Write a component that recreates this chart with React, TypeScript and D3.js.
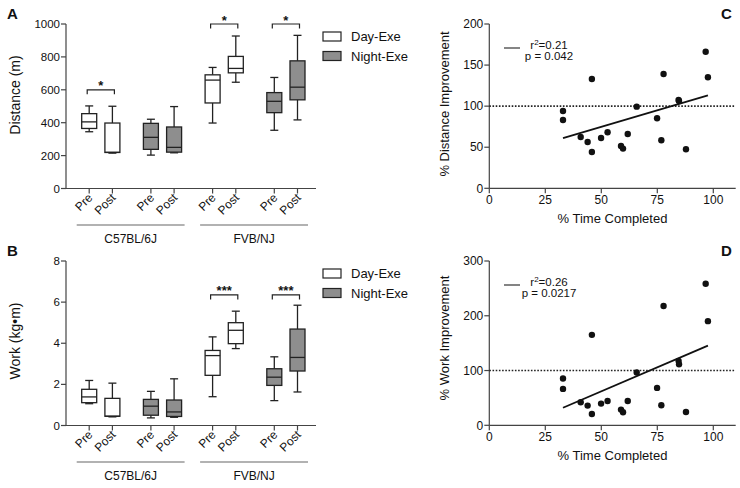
import * as d3 from 'd3';

// box stats: [min, q1, median, q3, max]
// order: C57 Day Pre, C57 Day Post, C57 Night Pre, C57 Night Post, FVB Day Pre, FVB Day Post, FVB Night Pre, FVB Night Post
const strains = ['C57BL/6J', 'FVB/NJ'];
const schedules = ['Day-Exe', 'Night-Exe'];
const phases = ['Pre', 'Post'];

const distanceStats = [
  [345, 365, 405, 455, 502],
  [215, 219, 220, 398, 500],
  [203, 238, 311, 396, 421],
  [217, 221, 250, 374, 498],
  [398, 520, 659, 691, 736],
  [646, 703, 730, 803, 927],
  [354, 461, 530, 583, 675],
  [417, 539, 616, 776, 931],
];

const workStats = [
  [1.06, 1.11, 1.39, 1.76, 2.19],
  [0.42, 0.45, 0.45, 1.32, 2.06],
  [0.37, 0.5, 0.94, 1.27, 1.66],
  [0.4, 0.44, 0.66, 1.24, 2.27],
  [1.4, 2.44, 3.4, 3.65, 4.31],
  [3.74, 3.98, 4.63, 5.0, 5.56],
  [1.21, 1.95, 2.35, 2.76, 3.34],
  [1.63, 2.65, 3.31, 4.69, 5.85],
];

// significance: [group index, bracket value, label]
const distanceSig: [number, number, string][] = [
  [0, 600, '*'],
  [2, 1000, '*'],
  [3, 1000, '*'],
];
const workSig: [number, number, string][] = [
  [2, 6.35, '***'],
  [3, 6.35, '***'],
];

const distanceTicks = [0, 200, 400, 600, 800, 1000];
const workTicks = [0, 2, 4, 6, 8];

// scatter (same animals in C and D)
const timeCompleted = [32.9, 32.9, 45.8, 40.8, 43.9, 45.8, 49.9, 52.8, 58.8, 59.7, 61.8, 65.8, 74.9, 76.8, 77.8, 84.5, 84.7, 87.8, 96.6, 97.6];
const distanceImprovement = [94.1, 83.2, 133, 62.5, 56.4, 44.2, 61.3, 68.2, 51.5, 48.3, 66.1, 99.4, 85.2, 58.4, 139.1, 107.5, 106.3, 47.5, 166.3, 135.1];
const workImprovement = [85.4, 66.5, 165.2, 42.1, 36, 20.7, 39.6, 44.5, 28.7, 23.8, 44.5, 96.3, 68.3, 36.6, 217.7, 117.7, 111.6, 24.4, 258.5, 190.2];
const timeTicks = [0, 25, 50, 75, 100];
const distImpTicks = [0, 50, 100, 150, 200];
const workImpTicks = [0, 100, 200, 300];

const FONT = '"Liberation Sans", Arial, Helvetica, sans-serif';
const GREY = '#8e8e8e';
const INK = '#222';
const AXIS = '#444';

interface BoxPanelProps {
  top: number;
  letter: string;
  yLabel: string;
  stats: number[][];
  ticks: number[];
  sig: [number, number, string][];
  yMax: number;
  labelY: number;
}

function BoxPanel({ top, letter, yLabel, stats, ticks, sig, yMax, labelY }: BoxPanelProps) {
  const x0 = 66;
  const x1 = 316;
  const y0 = top + 164.5;
  const y = d3.scaleLinear().domain([0, yMax]).range([y0, top]);
  const groups = d3.cross(strains, schedules).map(d => d.join('|'));
  const gx = d3.scalePoint<string>().domain(groups).range([100.8, 285.9]);
  const px = d3.scalePoint<string>().domain(phases).range([-11.6, 11.6]);
  const boxW = 15;
  const capW = 8;

  const items = d3.cross(groups, phases).map(([g, p], i) => ({
    g, p, x: (gx(g) as number) + (px(p) as number), s: stats[i],
    night: g.endsWith(schedules[1]),
  }));

  return (
    <g>
      <text x={7} y={top - 5} fontSize={15} fontWeight="bold" fill="#111">{letter}</text>
      <text transform={`translate(20,${labelY}) rotate(-90)`} textAnchor="middle" fontSize={14} fill="#111">{yLabel}</text>
      {/* y axis */}
      <line x1={x0} x2={x0} y1={top} y2={y0} stroke={AXIS} strokeWidth={1.2} />
      {ticks.map(t => (
        <g key={t}>
          <line x1={x0 - 5} x2={x0} y1={y(t)} y2={y(t)} stroke={AXIS} strokeWidth={1.2} />
          <text x={x0 - 6} y={y(t)} dy="0.35em" textAnchor="end" fontSize={11.5} fill="#111">{t}</text>
        </g>
      ))}
      {/* x axis */}
      <line x1={x0} x2={x1} y1={y0} y2={y0} stroke={AXIS} strokeWidth={1.2} />
      {items.map((d, i) => (
        <g key={i}>
          <line x1={d.x} x2={d.x} y1={y0} y2={y0 + 5} stroke={AXIS} strokeWidth={1.2} />
          <text transform={`translate(${d.x + 4},${y0 + 10}) rotate(-45)`} textAnchor="end" fontSize={12} fill="#111">{d.p}</text>
        </g>
      ))}
      {/* boxes */}
      {items.map((d, i) => {
        const [mn, q1, md, q3, mx] = d.s;
        return (
          <g key={'b' + i} stroke={INK} strokeWidth={1.3}>
            <line x1={d.x} x2={d.x} y1={y(mx)} y2={y(q3)} />
            <line x1={d.x} x2={d.x} y1={y(q1)} y2={y(mn)} />
            <line x1={d.x - capW / 2} x2={d.x + capW / 2} y1={y(mx)} y2={y(mx)} />
            <line x1={d.x - capW / 2} x2={d.x + capW / 2} y1={y(mn)} y2={y(mn)} />
            <rect x={d.x - boxW / 2} y={y(q3)} width={boxW} height={y(q1) - y(q3)} fill={d.night ? GREY : '#fff'} />
            <line x1={d.x - boxW / 2} x2={d.x + boxW / 2} y1={y(md)} y2={y(md)} />
          </g>
        );
      })}
      {/* significance brackets */}
      {sig.map(([gi, v, lab], i) => {
        const g = groups[gi];
        const xa = (gx(g) as number) + (px('Pre') as number) - 2;
        const xb = (gx(g) as number) + (px('Post') as number) + 2;
        const yy = y(v);
        return (
          <g key={'s' + i}>
            <path d={`M${xa},${yy + 4.5}V${yy}H${xb}V${yy + 4.5}`} fill="none" stroke={INK} strokeWidth={1.2} />
            <text x={(xa + xb) / 2} y={yy + 0.5} textAnchor="middle" fontSize={13} fontWeight="bold" fill="#111">{lab}</text>
          </g>
        );
      })}
      {/* strain labels */}
      {strains.map(s => {
        const first = items.find(d => d.g.startsWith(s + '|'))!;
        const last = [...items].reverse().find(d => d.g.startsWith(s + '|'))!;
        const la = first.x - 12.5;
        const lb = last.x + 10.5;
        return (
          <g key={s}>
            <line x1={la} x2={lb} y1={y0 + 36.5} y2={y0 + 36.5} stroke="#666" strokeWidth={1.2} />
            <text x={(la + lb) / 2} y={y0 + 54} textAnchor="middle" fontSize={12} fill="#111">{s}</text>
          </g>
        );
      })}
      {/* legend */}
      {schedules.map((s, i) => (
        <g key={s}>
          <rect x={323} y={top + 8 + i * 19.5} width={18} height={9} fill={i ? GREY : '#fff'} stroke={INK} strokeWidth={1.2} />
          <text x={351} y={top + 17 + i * 19.5} fontSize={13} fill="#111">{s}</text>
        </g>
      ))}
    </g>
  );
}

interface ScatterProps {
  top: number;
  letter: string;
  yLabel: string;
  ys: number[];
  ticks: number[];
  yMax: number;
  r2: string;
  p: string;
  labelY: number;
}

function fit(xs: number[], ys: number[]) {
  const mx = d3.mean(xs) as number;
  const my = d3.mean(ys) as number;
  const sxy = d3.sum(xs, (x, i) => (x - mx) * (ys[i] - my));
  const sxx = d3.sum(xs, x => (x - mx) * (x - mx));
  const slope = sxy / sxx;
  return { slope, intercept: my - slope * mx };
}

function ScatterPanel({ top, letter, yLabel, ys, ticks, yMax, r2, p, labelY }: ScatterProps) {
  const y0 = top + 164.3;
  const x = d3.scaleLinear().domain([0, 110]).range([489.3, 735.7]);
  const y = d3.scaleLinear().domain([0, yMax]).range([y0, top]);
  const { slope, intercept } = fit(timeCompleted, ys);
  const [xa, xb] = d3.extent(timeCompleted) as [number, number];
  const line = d3.line<number>().x(d => x(d)).y(d => y(intercept + slope * d));
  const pts = timeCompleted.map((t, i) => [t, ys[i]]);

  return (
    <g>
      <text x={721} y={top - 5} fontSize={15} fontWeight="bold" fill="#111">{letter}</text>
      <text transform={`translate(449,${labelY}) rotate(-90)`} textAnchor="middle" fontSize={13} fill="#111">{yLabel}</text>
      <line x1={x(0)} x2={x(0)} y1={top} y2={y0} stroke={AXIS} strokeWidth={1.2} />
      {ticks.map(t => (
        <g key={t}>
          <line x1={x(0) - 5} x2={x(0)} y1={y(t)} y2={y(t)} stroke={AXIS} strokeWidth={1.2} />
          <text x={x(0) - 6} y={y(t)} dy="0.35em" textAnchor="end" fontSize={12} fill="#111">{t}</text>
        </g>
      ))}
      <line x1={x(0)} x2={x(110)} y1={y0} y2={y0} stroke={AXIS} strokeWidth={1.2} />
      {timeTicks.map(t => (
        <g key={t}>
          <line x1={x(t)} x2={x(t)} y1={y0} y2={y0 + 5} stroke={AXIS} strokeWidth={1.2} />
          <text x={x(t)} y={y0 + 16} textAnchor="middle" fontSize={12} fill="#111">{t}</text>
        </g>
      ))}
      <text x={x(55)} y={y0 + 35} textAnchor="middle" fontSize={13} fill="#111">% Time Completed</text>
      <line x1={x(0)} x2={x(110)} y1={y(100)} y2={y(100)} stroke={INK} strokeWidth={1.6} strokeDasharray="1.6,1.6" />
      {pts.map(([a, b], i) => (
        <circle key={i} cx={x(a)} cy={y(b)} r={3.2} fill="#111" />
      ))}
      <path d={line([xa, xb]) ?? ''} fill="none" stroke="#111" strokeWidth={1.8} />
      <line x1={504} x2={520} y1={top + 24} y2={top + 24} stroke="#333" strokeWidth={1.2} />
      <text x={549} y={top + 25} textAnchor="middle" fontSize={11.5} fill="#111">
        r<tspan fontSize={8} dy={-4.5}>2</tspan><tspan dy={4.5}>={r2}</tspan>
      </text>
      <text x={549} y={top + 36} textAnchor="middle" fontSize={11.5} fill="#111">p = {p}</text>
    </g>
  );
}

export default function App() {
  return (
    <svg width={740} height={488} viewBox="0 0 740 488"
      style={{ position: 'absolute', left: 0, top: 0, background: '#fff', fontFamily: FONT }}>
      <rect width={740} height={488} fill="#fff" />
      <BoxPanel top={24} letter="A" yLabel="Distance (m)" stats={distanceStats} ticks={distanceTicks}
        sig={distanceSig} yMax={1000} labelY={95} />
      <BoxPanel top={261} letter="B" yLabel="Work (kg•m)" stats={workStats} ticks={workTicks}
        sig={workSig} yMax={8} labelY={341} />
      <ScatterPanel top={24} letter="C" yLabel="% Distance Improvement" ys={distanceImprovement}
        ticks={distImpTicks} yMax={200} r2="0.21" p="0.042" labelY={104} />
      <ScatterPanel top={261} letter="D" yLabel="% Work Improvement" ys={workImprovement}
        ticks={workImpTicks} yMax={300} r2="0.26" p="0.0217" labelY={338} />
    </svg>
  );
}
